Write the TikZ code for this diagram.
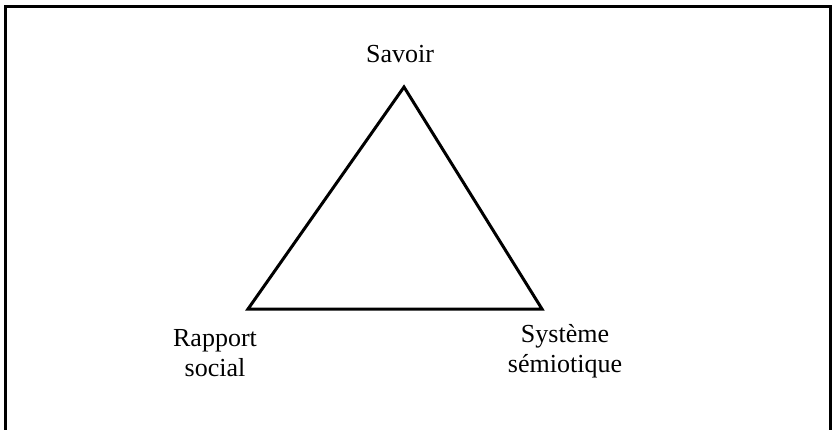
\documentclass[tikz,border=0pt]{standalone}
\usepackage{fontspec}
\setmainfont{Liberation Serif}
\usetikzlibrary{positioning}

\begin{document}
\begin{tikzpicture}[
    x=1pt, y=-1pt,
    label/.style={font=\fontsize{26}{30}\selectfont, align=center, inner sep=0pt, anchor=base},
    edge/.style={line width=3pt},
    frame/.style={line width=3pt}
]
\useasboundingbox (0,0) rectangle (832,429);
\draw[frame] (5,6.5) rectangle (830.5,445);

\coordinate (savoir) at (404,87);
\coordinate (rapport) at (248,309);
\coordinate (systeme) at (542,309);

\node[label] (savoirtxt) at (400,62) {Savoir};
\node[label] (rapporttxt) at (215,376) {Rapport\\social};
\node[label] (systemetxt) at (565,372) {Système\\sémiotique};

\draw[edge] (savoir) -- (rapport) -- (systeme) -- cycle;

\end{tikzpicture}
\end{document}
